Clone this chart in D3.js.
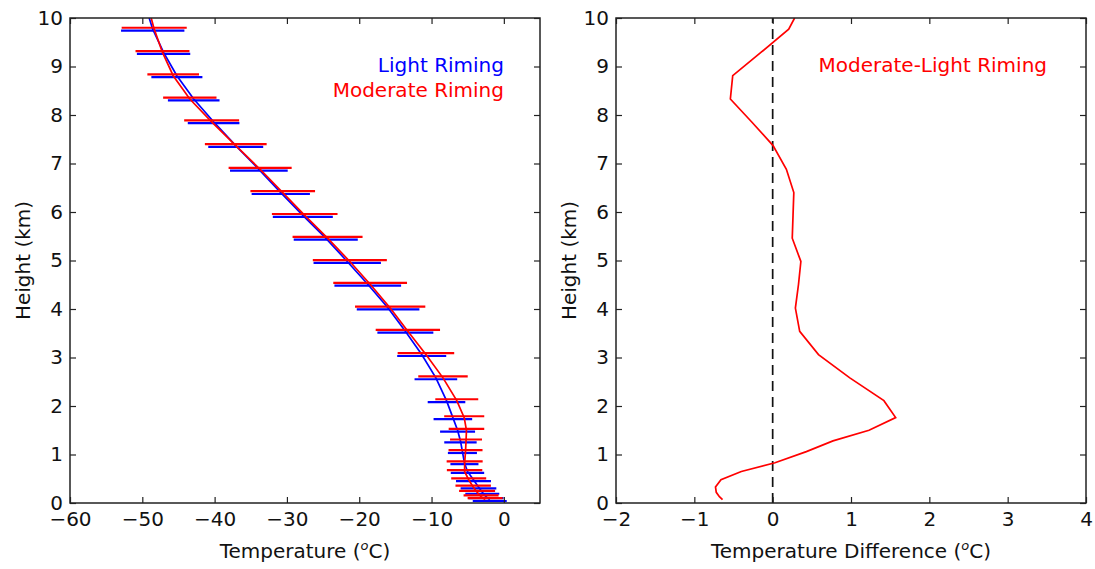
<!DOCTYPE html>
<html>
<head>
<meta charset="utf-8">
<script src="https://cdn.jsdelivr.net/npm/d3@7"></script>
<style>
  html, body { margin: 0; padding: 0; background: #fff; }
  svg { display: block; font-family: "DejaVu Sans", sans-serif; }
  .tick text { font-size: 20px; fill: #111; }
  .tick line { stroke: #222; stroke-width: 1.2; }
</style>
</head>
<body>
<svg id="chart" width="1095" height="569"></svg>
<script>
// Model levels (km) and mean temperature profiles (°C) for the two riming regimes
const levels = [10, 9.77, 9.29, 8.81, 8.33, 7.86, 7.37, 6.88, 6.40, 5.93, 5.46, 4.98, 4.51, 4.02,
                3.54, 3.06, 2.58, 2.11, 1.76, 1.50, 1.28, 1.06, 0.83, 0.65, 0.48, 0.33, 0.22, 0.13, 0.07];

const lightMean = [-49.05, -48.56, -47.06, -45.22, -42.89, -40.14, -37.08, -33.88, -30.85, -27.80,
                   -24.63, -21.66, -18.82, -16.01, -13.62, -11.36, -9.40, -7.93, -7.05, -6.40,
                   -6.00, -5.73, -5.45, -5.03, -4.20, -3.51, -2.98, -2.47, -1.95];

const moderateMean = [-48.77, -48.355, -47.21, -45.73, -43.43, -40.41, -37.075, -33.705, -30.58, -27.54,
                      -24.38, -21.30, -18.49, -15.72, -13.275, -10.775, -8.415, -6.51, -5.48, -5.17,
                      -5.23, -5.30, -5.42, -5.43, -4.86, -4.24, -3.70, -3.15, -2.59];

// Standard deviations (°C); no error bar at the model top
const lightSd = [null, 4.38, 3.69, 3.53, 3.57, 3.57, 3.80, 3.99, 4.03, 4.15, 4.43, 4.66, 4.61, 4.33,
                 3.87, 3.39, 2.95, 2.60, 2.67, 2.42, 2.24, 2.01, 1.94, 2.31, 2.42, 2.47, 2.35, 2.42, 2.35];

const moderateSd = [null, 4.50, 3.73, 3.57, 3.69, 3.80, 4.27, 4.36, 4.47, 4.54, 4.84, 5.12, 5.10, 4.86,
                    4.45, 3.91, 3.42, 2.97, 2.77, 2.46, 2.21, 2.35, 2.49, 2.45, 2.42, 2.45, 2.49, 2.42, 2.42];

const tempTicks = [-60, -50, -40, -30, -20, -10, 0];
const diffTicks = [-2, -1, 0, 1, 2, 3, 4];
const heightTicks = [0, 1, 2, 3, 4, 5, 6, 7, 8, 9, 10];

const seriesNames = ["Light Riming", "Moderate Riming"];
const diffName = "Moderate-Light Riming";

// ---- layout ----
const svg = d3.select("#chart");
const plotTop = 18, plotBottom = 503;
const panels = [
  { left: 70, right: 540, domain: [-60, 5], ticks: tempTicks, label: "Temperature" },
  { left: 616, right: 1086, domain: [-2, 4], ticks: diffTicks, label: "Temperature Difference" }
];
const tickLen = 6;
const colors = { light: "#0000ff", moderate: "#ff0000", frame: "#222" };

const y = d3.scaleLinear().domain([0, 10]).range([plotBottom, plotTop]);

function drawPanel(p, idx) {
  const x = d3.scaleLinear().domain(p.domain).range([p.left, p.right]);
  const g = svg.append("g");

  const clipId = "clip" + idx;
  svg.append("clipPath").attr("id", clipId)
    .append("rect").attr("x", p.left).attr("y", plotTop)
    .attr("width", p.right - p.left).attr("height", plotBottom - plotTop);

  const plot = g.append("g").attr("clip-path", `url(#${clipId})`);

  // axes with inward ticks on all four sides
  const axB = g.append("g").attr("transform", `translate(0,${plotBottom})`)
    .call(d3.axisBottom(x).tickValues(p.ticks).tickSize(-tickLen).tickPadding(9).tickFormat(d3.format("d")));
  const axT = g.append("g").attr("transform", `translate(0,${plotTop})`)
    .call(d3.axisTop(x).tickValues(p.ticks).tickSize(-tickLen).tickFormat(""));
  const axL = g.append("g").attr("transform", `translate(${p.left},0)`)
    .call(d3.axisLeft(y).tickValues(heightTicks).tickSize(-tickLen).tickPadding(7).tickFormat(d3.format("d")));
  const axR = g.append("g").attr("transform", `translate(${p.right},0)`)
    .call(d3.axisRight(y).tickValues(heightTicks).tickSize(-tickLen).tickFormat(""));
  [axB, axT, axL, axR].forEach(a => {
    a.select(".domain").remove();
    a.attr("font-family", null).attr("font-size", null);
  });

  // axis titles
  const xt = g.append("text")
    .attr("x", (p.left + p.right) / 2).attr("y", 558)
    .attr("text-anchor", "middle").attr("font-size", 20).attr("fill", "#111");
  xt.append("tspan").text(p.label + " (");
  xt.append("tspan").attr("font-size", 13).attr("font-style", "italic").attr("dy", -8).text("o");
  xt.append("tspan").attr("dy", 8).text("C)");

  g.append("text")
    .attr("transform", `translate(${p.left - 40},${(plotTop + plotBottom) / 2}) rotate(-90)`)
    .attr("text-anchor", "middle").attr("font-size", 20).attr("fill", "#111")
    .text("Height (km)");

  return { x, plot, g };
}

// ---- left panel: mean profiles with ±1 sd bars ----
const L = drawPanel(panels[0], 0);
const barNudge = { light: 1.4, moderate: -1.4 };

function drawSeries(means, sds, color, nudge) {
  const pts = levels.map((h, i) => ({ h, t: means[i], sd: sds[i] }));
  L.plot.append("path")
    .datum(pts)
    .attr("fill", "none").attr("stroke", color).attr("stroke-width", 1.7)
    .attr("d", d3.line().x(d => L.x(d.t)).y(d => y(d.h)));
  L.plot.append("g").selectAll("line")
    .data(pts.filter(d => d.sd != null))
    .join("line")
    .attr("x1", d => L.x(d.t - d.sd)).attr("x2", d => L.x(d.t + d.sd))
    .attr("y1", d => y(d.h) + nudge).attr("y2", d => y(d.h) + nudge)
    .attr("stroke", color).attr("stroke-width", 2.2);
}
drawSeries(lightMean, lightSd, colors.light, barNudge.light);
drawSeries(moderateMean, moderateSd, colors.moderate, barNudge.moderate);

L.g.append("text").attr("x", 504).attr("y", 72).attr("text-anchor", "end")
  .attr("font-size", 20).attr("fill", colors.light).text(seriesNames[0]);
L.g.append("text").attr("x", 504).attr("y", 96.5).attr("text-anchor", "end")
  .attr("font-size", 20).attr("fill", colors.moderate).text(seriesNames[1]);

// ---- right panel: moderate minus light ----
const R = drawPanel(panels[1], 1);
const diff = levels.map((h, i) => ({ h, d: moderateMean[i] - lightMean[i] }));

R.plot.append("line")
  .attr("x1", R.x(0)).attr("x2", R.x(0)).attr("y1", y(0)).attr("y2", y(10))
  .attr("stroke", "#111").attr("stroke-width", 1.7).attr("stroke-dasharray", "10,6");

R.plot.append("path")
  .datum(diff)
  .attr("fill", "none").attr("stroke", colors.moderate).attr("stroke-width", 1.7)
  .attr("d", d3.line().x(d => R.x(d.d)).y(d => y(d.h)));

R.g.append("text").attr("x", 1047).attr("y", 72).attr("text-anchor", "end")
  .attr("font-size", 20).attr("fill", colors.moderate).text(diffName);

// frames on top
panels.forEach(p => {
  svg.append("rect").attr("x", p.left).attr("y", plotTop)
    .attr("width", p.right - p.left).attr("height", plotBottom - plotTop)
    .attr("fill", "none").attr("stroke", colors.frame).attr("stroke-width", 1.5);
});
</script>
</body>
</html>
